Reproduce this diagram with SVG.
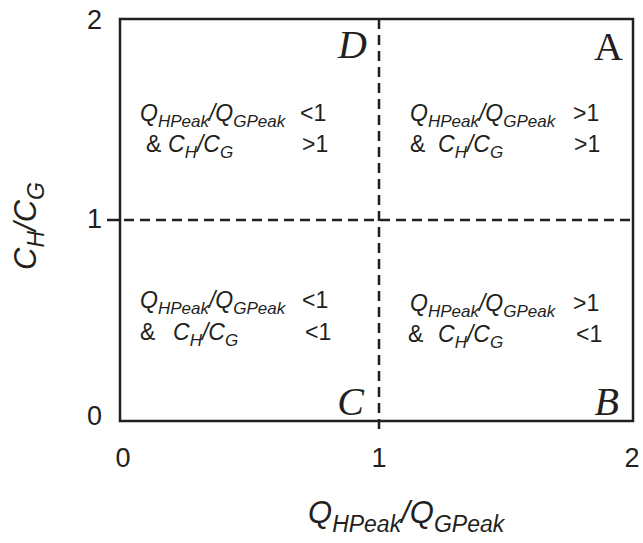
<svg xmlns="http://www.w3.org/2000/svg" width="643" height="543" viewBox="0 0 643 543">
<style>
text{font-family:"Liberation Sans",Arial,sans-serif;fill:#231f20}
.tick{font-size:27px}
.q{font-size:23px}
.sub{font-size:17px;font-style:italic}
.it{font-style:italic}
.lab{font-family:"Liberation Serif","Times New Roman",serif;font-size:40px}
.ax{font-size:31px}
.axs{font-size:23px;font-style:italic}
.frame{fill:none;stroke:#231f20;stroke-width:2.5}
.dash{fill:none;stroke:#231f20;stroke-width:2.5;stroke-dasharray:10 6}
</style>
<g id="frame">
<rect class="frame" x="120" y="19" width="513" height="402"/>
</g>
<g id="connectors">
<line class="dash" x1="379" y1="19" x2="379" y2="432"/>
<line class="dash" x1="124" y1="220" x2="633" y2="220"/>
<line class="frame" x1="107" y1="220" x2="120" y2="220"/>
</g>
<g id="ticks">
<text class="tick" x="102" y="29" text-anchor="end">2</text>
<text class="tick" x="102" y="228" text-anchor="end">1</text>
<text class="tick" x="102" y="425" text-anchor="end">0</text>
<text class="tick" x="123" y="467" text-anchor="middle">0</text>
<text class="tick" x="379" y="467" text-anchor="middle">1</text>
<text class="tick" x="632" y="467" text-anchor="middle">2</text>
</g>
<g id="axis-labels">
<text class="ax" transform="translate(36,270) rotate(-90)"><tspan class="it">C</tspan><tspan class="axs" dy="8">H</tspan><tspan dy="-8" class="it">/C</tspan><tspan class="axs" dy="8">G</tspan></text>
<text class="ax" x="308" y="523"><tspan class="it">Q</tspan><tspan class="axs" dy="9">HPeak</tspan><tspan dy="-9" class="it">/Q</tspan><tspan class="axs" dy="9">GPeak</tspan></text>
</g>
<g id="quadrant-D">
<text class="lab it" x="367" y="58" text-anchor="end">D</text>
<text class="q" x="140" y="121"><tspan class="it">Q</tspan><tspan class="sub" dy="6">HPeak</tspan><tspan dy="-6" class="it">/Q</tspan><tspan class="sub" dy="6">GPeak</tspan></text>
<text class="q" x="300" y="121">&lt;1</text>
<text class="q" x="146" y="152">&amp;</text>
<text class="q" x="168" y="152"><tspan class="it">C</tspan><tspan class="sub" dy="6">H</tspan><tspan dy="-6" class="it">/C</tspan><tspan class="sub" dy="6">G</tspan></text>
<text class="q" x="302" y="152">&gt;1</text>
</g>
<g id="quadrant-A">
<text class="lab" x="623" y="60" text-anchor="end">A</text>
<text class="q" x="410" y="121"><tspan class="it">Q</tspan><tspan class="sub" dy="6">HPeak</tspan><tspan dy="-6" class="it">/Q</tspan><tspan class="sub" dy="6">GPeak</tspan></text>
<text class="q" x="573" y="121">&gt;1</text>
<text class="q" x="410" y="152">&amp;</text>
<text class="q" x="438" y="152"><tspan class="it">C</tspan><tspan class="sub" dy="6">H</tspan><tspan dy="-6" class="it">/C</tspan><tspan class="sub" dy="6">G</tspan></text>
<text class="q" x="574" y="152">&gt;1</text>
</g>
<g id="quadrant-C">
<text class="lab it" x="364" y="415" text-anchor="end">C</text>
<text class="q" x="140" y="308"><tspan class="it">Q</tspan><tspan class="sub" dy="6">HPeak</tspan><tspan dy="-6" class="it">/Q</tspan><tspan class="sub" dy="6">GPeak</tspan></text>
<text class="q" x="302" y="308">&lt;1</text>
<text class="q" x="140" y="340">&amp;</text>
<text class="q" x="173" y="340"><tspan class="it">C</tspan><tspan class="sub" dy="6">H</tspan><tspan dy="-6" class="it">/C</tspan><tspan class="sub" dy="6">G</tspan></text>
<text class="q" x="305" y="340">&lt;1</text>
</g>
<g id="quadrant-B">
<text class="lab it" x="619" y="415" text-anchor="end">B</text>
<text class="q" x="410" y="311"><tspan class="it">Q</tspan><tspan class="sub" dy="6">HPeak</tspan><tspan dy="-6" class="it">/Q</tspan><tspan class="sub" dy="6">GPeak</tspan></text>
<text class="q" x="573" y="311">&gt;1</text>
<text class="q" x="408" y="342">&amp;</text>
<text class="q" x="438" y="342"><tspan class="it">C</tspan><tspan class="sub" dy="6">H</tspan><tspan dy="-6" class="it">/C</tspan><tspan class="sub" dy="6">G</tspan></text>
<text class="q" x="576" y="342">&lt;1</text>
</g>
</svg>
